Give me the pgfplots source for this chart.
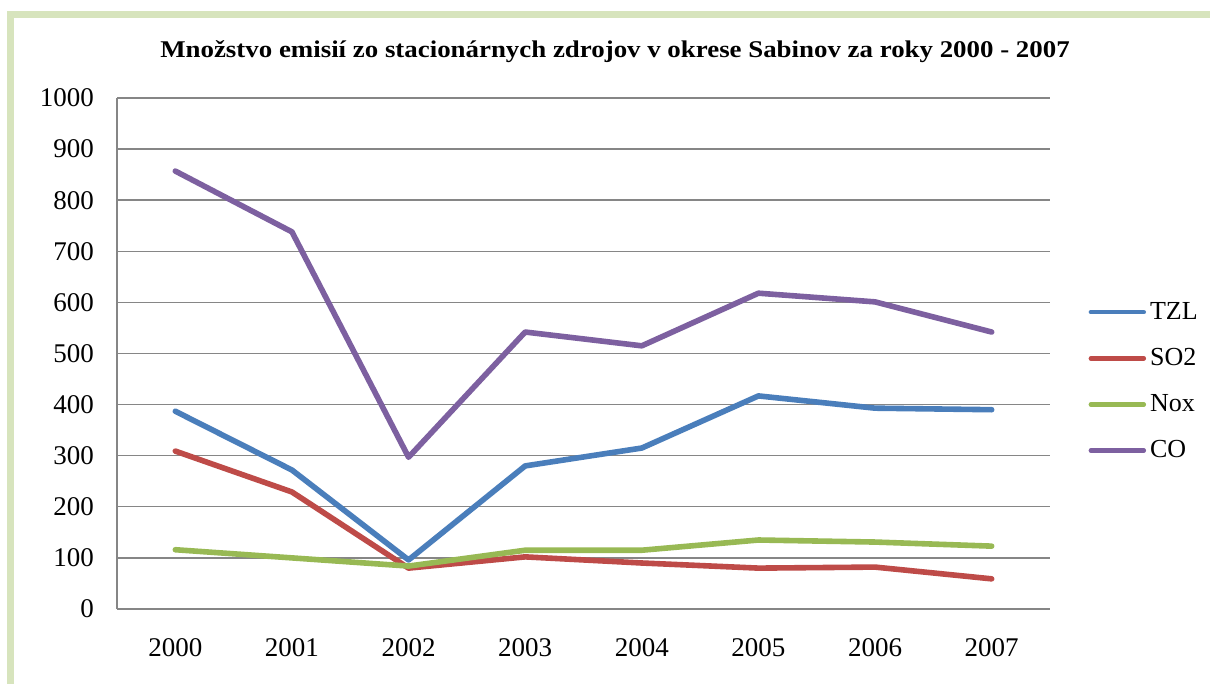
\documentclass[border=0pt]{standalone}
\usepackage{pgfplots}
\pgfplotsset{compat=1.18}
\usepackage{fontspec}
\setmainfont{Liberation Serif}
\newfontfamily\titlefont[FakeStretch=1.12]{Liberation Serif}
\definecolor{cTZL}{HTML}{4A7EBB}
\definecolor{cSO}{HTML}{BE4B48}
\definecolor{cNox}{HTML}{98B954}
\definecolor{cCO}{HTML}{7D60A0}
\definecolor{frame}{HTML}{D7E4BD}
\definecolor{gridc}{HTML}{868686}
\begin{document}
\begin{tikzpicture}[x=0.5pt,y=0.5pt]
\useasboundingbox (0,0) rectangle (1210,684);
\fill[white] (0,0) rectangle (1210,684);
\fill[frame] (7,0) rectangle (14,673);
\fill[frame] (7,666) rectangle (1210,673);
\node[font=\titlefont\fontsize{12pt}{14pt}\selectfont\bfseries] at (615,632) {Množstvo emisií zo stacionárnych zdrojov v okrese Sabinov za roky 2000 - 2007};
\begin{axis}[
  at={(58.5pt,37.5pt)}, anchor=south west,
  scale only axis, width=466.5pt, height=255.5pt,
  xmin=-0.5, xmax=7.5, ymin=0, ymax=1000,
  xtick={0,...,7},
  xticklabels={2000,2001,2002,2003,2004,2005,2006,2007},
  ytick={0,100,...,1000},
  major tick length=0pt,
  axis lines*=left,
  axis line style={gridc, line width=0.7pt},
  ymajorgrids, major grid style={gridc, line width=0.7pt},
  tick label style={font=\fontsize{13.5pt}{15pt}\selectfont},
  /pgf/number format/assume math mode=true,
  /pgf/number format/1000 sep={},
  xticklabel shift=11pt,
  yticklabel shift=8pt,
  legend cell align=left,
  legend style={draw=none, fill=none, at={(rel axis cs:1.041,0.609)}, anchor=north west,
    font=\fontsize{13pt}{15pt}\selectfont, row sep=9pt, inner sep=0pt,
    nodes={inner sep=2pt}},
  legend image code/.code={\draw[#1, line width=2.2pt, line cap=round] (0pt,0pt) -- (26.5pt,0pt);},
  every axis plot/.append style={line width=2.8pt, line join=round, line cap=round},
]
\addplot[cTZL] coordinates {(0,387) (1,272) (2,96) (3,280) (4,315) (5,417) (6,393) (7,390)};
\addlegendentry{TZL}
\addplot[cSO] coordinates {(0,309) (1,229) (2,80) (3,102) (4,90) (5,80) (6,82) (7,59)};
\addlegendentry{SO2}
\addplot[cNox] coordinates {(0,116) (1,100) (2,84) (3,115) (4,115) (5,135) (6,131) (7,123)};
\addlegendentry{Nox}
\addplot[cCO] coordinates {(0,857) (1,738) (2,297) (3,542) (4,515) (5,618) (6,601) (7,542)};
\addlegendentry{CO}
\end{axis}
\end{tikzpicture}
\end{document}
